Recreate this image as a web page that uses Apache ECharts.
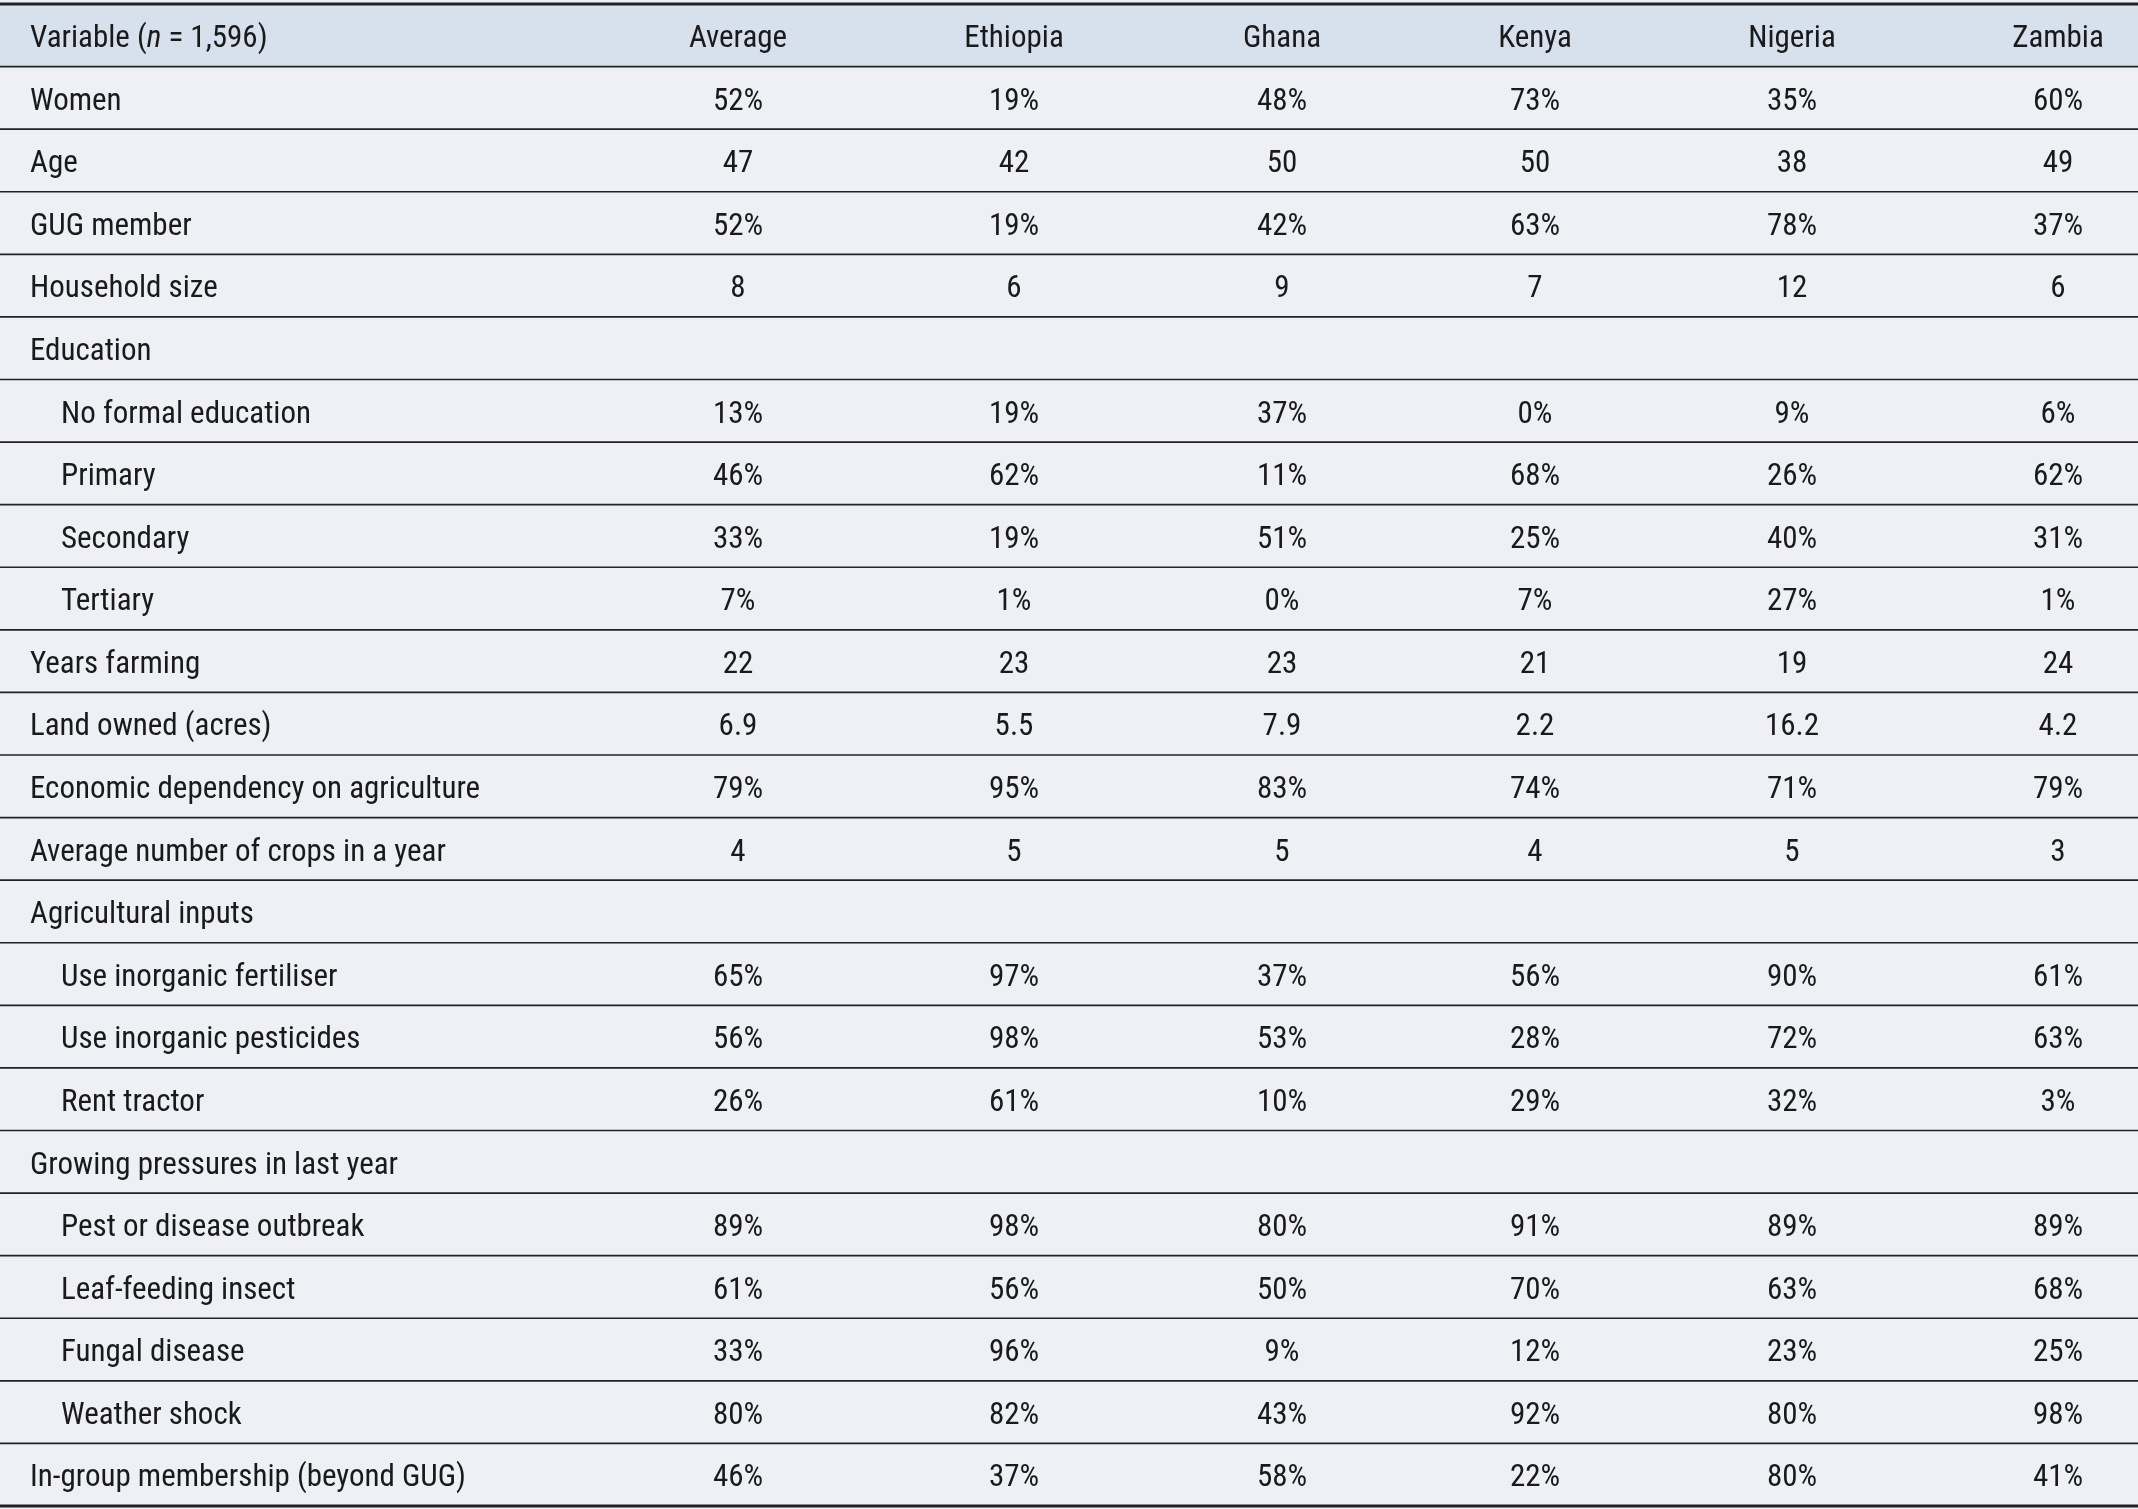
<!DOCTYPE html>
<html><head><meta charset="utf-8">
<script src="https://cdn.jsdelivr.net/npm/echarts@6/dist/echarts.min.js"></script>
<style>html,body{margin:0;padding:0;background:#eef0f5}#c{width:2138px;height:1509px}</style>
</head><body><div id="c"></div>
<script>
const columns = ["Average","Ethiopia","Ghana","Kenya","Nigeria","Zambia"];
const rowLabels = ["Women","Age","GUG member","Household size","Education","No formal education","Primary","Secondary","Tertiary","Years farming","Land owned (acres)","Economic dependency on agriculture","Average number of crops in a year","Agricultural inputs","Use inorganic fertiliser","Use inorganic pesticides","Rent tractor","Growing pressures in last year","Pest or disease outbreak","Leaf-feeding insect","Fungal disease","Weather shock","In-group membership (beyond GUG)"];
const indented = [0,0,0,0,0,1,1,1,1,0,0,0,0,0,1,1,1,0,1,1,1,1,0];
const average  = ["52%","47","52%","8","","13%","46%","33%","7%","22","6.9","79%","4","","65%","56%","26%","","89%","61%","33%","80%","46%"];
const ethiopia = ["19%","42","19%","6","","19%","62%","19%","1%","23","5.5","95%","5","","97%","98%","61%","","98%","56%","96%","82%","37%"];
const ghana    = ["48%","50","42%","9","","37%","11%","51%","0%","23","7.9","83%","5","","37%","53%","10%","","80%","50%","9%","43%","58%"];
const kenya    = ["73%","50","63%","7","","0%","68%","25%","7%","21","2.2","74%","4","","56%","28%","29%","","91%","70%","12%","92%","22%"];
const nigeria  = ["35%","38","78%","12","","9%","26%","40%","27%","19","16.2","71%","5","","90%","72%","32%","","89%","63%","23%","80%","80%"];
const zambia   = ["60%","49","37%","6","","6%","62%","31%","1%","24","4.2","79%","3","","61%","63%","3%","","89%","68%","25%","98%","41%"];

const colX = [738,1014,1282,1535,1792,2058];
const FONT = '"Liberation Sans Narrow","Roboto Condensed",Roboto,sans-serif';
const FS = 31;
const DY = 4;
const allRows = ["__header__"].concat(rowLabels);
const valueCols = [average,ethiopia,ghana,kenya,nigeria,zambia];

const chart = echarts.init(document.getElementById('c'), null, {renderer:'canvas'});
chart.setOption({
  backgroundColor:'#eef0f5',
  animation:false,
  grid:{left:0,right:0,top:4,bottom:3},
  xAxis:{type:'value',min:0,max:2138,show:false},
  yAxis:{type:'category',data:allRows,inverse:true,show:false},
  series:[{
    type:'custom',
    data:allRows.map((r,i)=>[0,i]),
    renderItem:function(params,api){
      const i = api.value(1);
      const c = api.coord([0,i]);
      const h = api.size([0,1])[1];
      const top = c[1]-h/2, mid = c[1]+DY;
      const W = 2138;
      const ch = [];
      if(i===0){
        ch.push({type:'rect',shape:{x:0,y:top,width:W,height:h},style:{fill:'#d7e0ed'}});
        ch.push({type:'line',shape:{x1:0,y1:top,x2:W,y2:top},style:{stroke:'#222',lineWidth:3}});
        ch.push({type:'text',style:{x:30,y:mid,text:'{a|Variable (}{i|n}{a| = 1,596)}',verticalAlign:'middle',rich:{a:{fontFamily:FONT,fontSize:FS,fill:'#1a1a1a'},i:{fontFamily:FONT,fontSize:FS,fontStyle:'italic',fill:'#1a1a1a'}}}});
        columns.forEach((t,k)=>ch.push({type:'text',style:{x:colX[k],y:mid,text:t,align:'center',verticalAlign:'middle',fontFamily:FONT,fontSize:FS,fill:'#1a1a1a'}}));
      } else {
        const r = i-1;
        ch.push({type:'text',style:{x:indented[r]?61:30,y:mid,text:rowLabels[r],verticalAlign:'middle',fontFamily:FONT,fontSize:FS,fill:'#1a1a1a'}});
        valueCols.forEach((arr,k)=>ch.push({type:'text',style:{x:colX[k],y:mid,text:arr[r],align:'center',verticalAlign:'middle',fontFamily:FONT,fontSize:FS,fill:'#1a1a1a'}}));
      }
      const last = i===allRows.length-1;
      ch.push({type:'line',shape:{x1:0,y1:top+h,x2:W,y2:top+h},style:{stroke:'#222',lineWidth:last?3:1.6}});
      return {type:'group',children:ch};
    }
  }]
});
</script></body></html>
